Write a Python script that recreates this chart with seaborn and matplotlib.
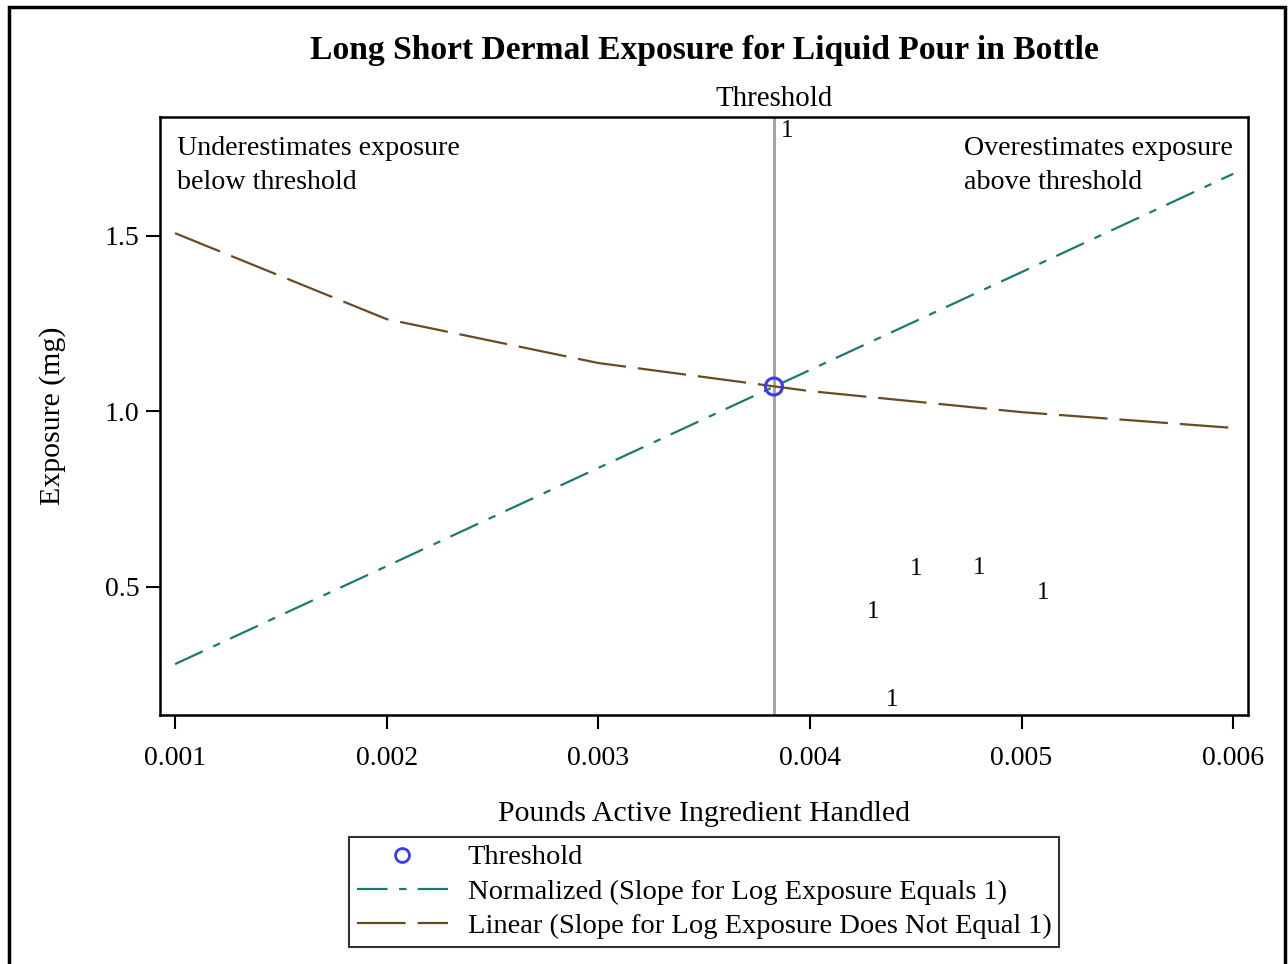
import matplotlib
matplotlib.use("Agg")
import matplotlib.pyplot as plt
import seaborn as sns
import pandas as pd
from matplotlib.lines import Line2D
from matplotlib.patches import Rectangle

# ---- data ----
x_pounds = [0.001, 0.002, 0.003, 0.004, 0.005, 0.006]
normalized = [0.279, 0.558, 0.838, 1.117, 1.396, 1.676]
linear = [1.507, 1.262, 1.137, 1.057, 0.997, 0.952]
threshold_x = [0.00383]
threshold_y = [1.07]
label_x = [0.00389, 0.00450, 0.00480, 0.00510, 0.00430, 0.00439]
label_y = [1.798, 0.550, 0.553, 0.481, 0.427, 0.177]
label_text = ["1", "1", "1", "1", "1", "1"]
x_ticks = [0.001, 0.002, 0.003, 0.004, 0.005, 0.006]
y_ticks = [0.5, 1.0, 1.5]

sns.set_style("white")
plt.rcParams["font.family"] = ["Liberation Serif", "DejaVu Serif"]
plt.rcParams["lines.scale_dashes"] = False
for k in ["text.color", "axes.labelcolor", "xtick.color", "ytick.color", "xtick.labelcolor", "ytick.labelcolor"]:
    plt.rcParams[k] = "black"

fig = plt.figure(figsize=(12.88, 9.64), dpi=100)
ax = fig.add_axes([160 / 1288, 1 - 715 / 964, (1248 - 160) / 1288, (715 - 117) / 964])

df = pd.DataFrame({"x": x_pounds, "norm": normalized, "lin": linear})

teal = "#1b7a6e"
brown = "#6b4a22"

sns.lineplot(data=df, x="x", y="norm", ax=ax, color=teal, linewidth=1.6)
sns.lineplot(data=df, x="x", y="lin", ax=ax, color=brown, linewidth=1.6)
ax.lines[0].set_dashes((22, 8.3, 5.4, 8))
ax.lines[1].set_dashes((35, 8.6))

ax.axvline(threshold_x[0], color="#a0a0a0", linewidth=2, zorder=1)

sns.scatterplot(x=threshold_x, y=threshold_y, ax=ax, marker="o", s=150,
                facecolors="none", edgecolor="#3a3af0", linewidth=2.2, zorder=5)

for lx, ly, lt in zip(label_x, label_y, label_text):
    ax.text(lx, ly, lt, ha="center", va="center", fontsize=18, color="black")

ax.set_xlim(0.000929, 0.00607)
ax.set_ylim(0.134, 1.838)
ax.set_xticks(x_ticks)
ax.set_xticklabels(["0.001", "0.002", "0.003", "0.004", "0.005", "0.006"])
ax.set_yticks(y_ticks)
ax.set_yticklabels(["0.5", "1.0", "1.5"])
ax.tick_params(axis="both", direction="out", length=10, width=1.5, color="black",
               labelsize=20, bottom=True, left=True)
ax.tick_params(axis="x", pad=12)
ax.tick_params(axis="y", pad=5)
for sp in ax.spines.values():
    sp.set_color("black")
    sp.set_linewidth(1.8)

ax.set_xlabel("Pounds Active Ingredient Handled", fontsize=21.5, labelpad=22)
ax.set_ylabel("Exposure (mg)", fontsize=21.5, labelpad=28)

ax.text(177 / 1288, 1 - 136 / 964, "Underestimates exposure\nbelow threshold",
        transform=fig.transFigure, ha="left", va="top", fontsize=20.2, linespacing=1.45)
ax.text(964 / 1288, 1 - 136 / 964, "Overestimates exposure\nabove threshold",
        transform=fig.transFigure, ha="left", va="top", fontsize=20.2, linespacing=1.45)
ax.text(threshold_x[0], 1.008, "Threshold", transform=ax.get_xaxis_transform(),
        ha="center", va="bottom", fontsize=20.8)

fig.text(704 / 1288, 1 - 51 / 964, "Long Short Dermal Exposure for Liquid Pour in Bottle",
         ha="center", va="center", fontsize=24.2, fontweight="bold")

handles = [
    Line2D([], [], marker="o", linestyle="none", markerfacecolor="none",
           markeredgecolor="#3a3af0", markeredgewidth=2, markersize=10),
    Line2D([], [], color=teal, linewidth=1.6, dashes=(22, 8.3, 5.4, 8)),
    Line2D([], [], color=brown, linewidth=1.6, dashes=(35, 8.6)),
]
labels = ["Threshold", "Normalized (Slope for Log Exposure Equals 1)",
          "Linear (Slope for Log Exposure Does Not Equal 1)"]
leg = fig.legend(handles, labels, loc="center", bbox_to_anchor=(704 / 1288, 1 - 892 / 964),
                 fontsize=20.5, frameon=True, fancybox=False, edgecolor="black",
                 handlelength=3.2, handletextpad=0.7, borderpad=0.25, labelspacing=0.3,
                 borderaxespad=0)
leg.get_frame().set_linewidth(1.5)

fig.patches.append(Rectangle((9 / 1288, -0.05), (1285 - 9) / 1288, 1.05 - 7 / 964,
                             transform=fig.transFigure, fill=False, edgecolor="black",
                             linewidth=2.5))

fig.savefig("out.png", dpi=100)
